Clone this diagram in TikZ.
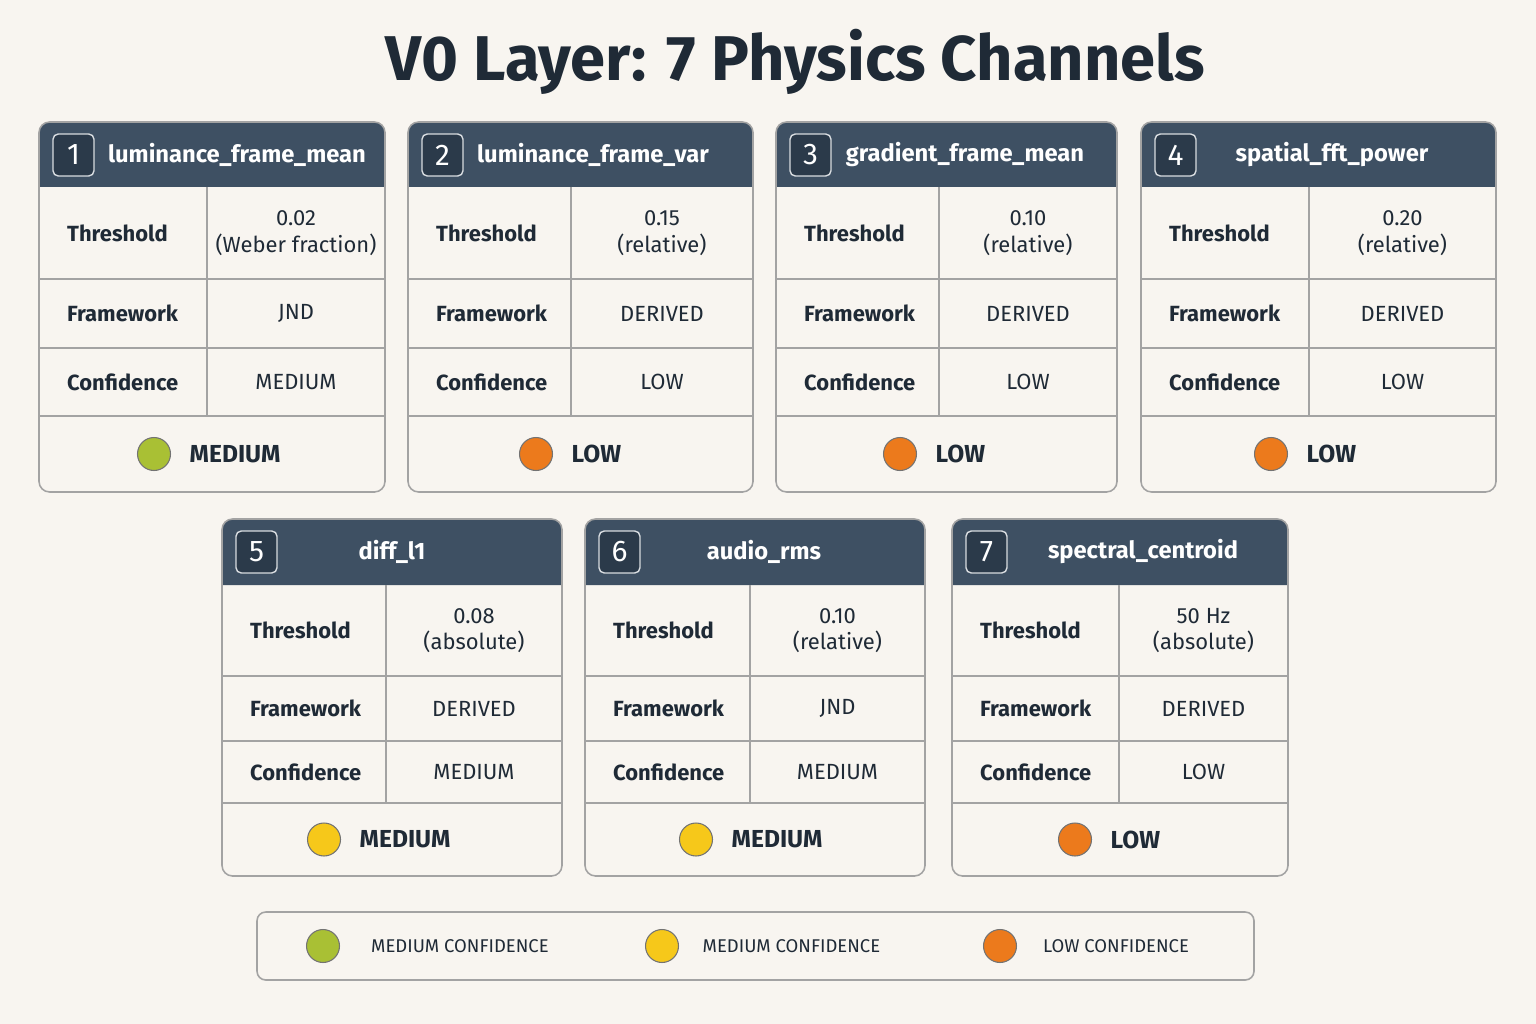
\documentclass[tikz,border=0pt]{standalone}
\usepackage{fontspec}
\setmainfont{Fira Sans}
\usetikzlibrary{positioning}

\definecolor{bg}{HTML}{F8F5F0}
\definecolor{hdr}{HTML}{3E5063}
\definecolor{numbox}{HTML}{2B3A4A}
\definecolor{grid}{HTML}{A3A3A3}
\definecolor{ink}{HTML}{1F2A36}
\definecolor{cgreen}{HTML}{A9C034}
\definecolor{cyellow}{HTML}{F6C81A}
\definecolor{corange}{HTML}{EC7A1C}

\tikzset{
  lbl/.style={font=\fontsize{12.5}{14}\selectfont\bfseries, text=ink, anchor=west},
  val/.style={font=\fontsize{12.5}{15}\selectfont, text=ink, align=center},
  hname/.style={font=\fontsize{13.5}{15}\selectfont\bfseries, text=white},
  badge/.style={font=\fontsize{14}{16}\selectfont\bfseries, text=ink, anchor=west},
  dot/.style={circle, draw=black!55, line width=0.6pt, minimum size=0.66cm, inner sep=0pt},
  legtext/.style={font=\fontsize{10.5}{12}\selectfont, text=ink, anchor=west}
}

% one card; uses \xa \xb \xd \xn \xdot and the row heights \ya..\yf
\newcommand\cardbody{%
  \fill[bg] (\xa,\ya) rectangle (\xb,\yf);
  \fill[hdr] (\xa,\yb) {[rounded corners=6] -- (\xa,\ya) -- (\xb,\ya)} -- (\xb,\yb) -- cycle;
  \draw[grid, line width=0.9pt, rounded corners=6] (\xa,\ya) rectangle (\xb,\yf);
  \draw[grid, line width=0.8pt] (\xa,\yc) -- (\xb,\yc) (\xa,\yd) -- (\xb,\yd) (\xa,\ye) -- (\xb,\ye)
    (\xd,\yb) -- (\xd,\ye);
  \draw[white!80!hdr, fill=numbox, line width=0.8pt, rounded corners=3]
    (\xa+14,\ya+12) rectangle (\xa+55,\ya+54);
  \node[font=\fontsize{17}{17}\selectfont, text=white] at (\xa+34.5,\ya+33) {\n};
  \node[hname] at (\xn,\ya+33) {\name};
  \node[lbl] at (\xa+22,{(\yb+\yc)/2}) {Threshold};
  \node[lbl] at (\xa+22,{(\yc+\yd)/2}) {Framework};
  \node[lbl] at (\xa+22,{(\yd+\ye)/2}) {Confidence};
  \node[val] at ({(\xd+\xb)/2},{(\yb+\yc)/2}) {\tv\\\tu};
  \node[val] at ({(\xd+\xb)/2},{(\yc+\yd)/2}) {\fw};
  \node[val] at ({(\xd+\xb)/2},{(\yd+\ye)/2}) {\cf};
  \node[dot, fill=\dc] (d\n) at (\xdot,{(\ye+\yf)/2}) {};
  \node[badge, right=0.25cm of d\n] {\bd};
}

\begin{document}
\begin{tikzpicture}[x=0.02cm, y=-0.02cm]
  \fill[bg] (0,0) rectangle (1536,1024);
  \useasboundingbox (0,0) rectangle (1536,1024);

  \node[font=\fontsize{36}{40}\selectfont\bfseries, text=ink] (title) at (795,62) {V0 Layer: 7 Physics Channels};

  % top row
  \def\ya{122}\def\yb{187}\def\yc{279}\def\yd{348}\def\ye{416}\def\yf{492}
  \foreach \xa/\xb/\xd/\xn/\xdot/\n/\name/\tv/\tu/\fw/\cf/\dc/\bd in {
    39/385/207/237/154/1/luminance\_frame\_mean/0.02/(Weber fraction)/JND/MEDIUM/cgreen/MEDIUM,
    408/753/571/593/536/2/luminance\_frame\_var/0.15/(relative)/DERIVED/LOW/corange/LOW,
    776/1117/939/965/900/3/gradient\_frame\_mean/0.10/(relative)/DERIVED/LOW/corange/LOW,
    1141/1496/1309/1332/1271/4/spatial\_fft\_power/0.20/(relative)/DERIVED/LOW/corange/LOW}
    {\cardbody}

  % bottom row
  \def\ya{519}\def\yb{585}\def\yc{676}\def\yd{741}\def\ye{803}\def\yf{876}
  \foreach \xa/\xb/\xd/\xn/\xdot/\n/\name/\tv/\tu/\fw/\cf/\dc/\bd in {
    222/562/386/392/324/5/diff\_l1/0.08/(absolute)/DERIVED/MEDIUM/cyellow/MEDIUM,
    585/925/750/764/696/6/audio\_rms/0.10/(relative)/JND/MEDIUM/cyellow/MEDIUM,
    952/1288/1119/1143/1075/7/spectral\_centroid/50 Hz/(absolute)/DERIVED/LOW/corange/LOW}
    {\cardbody}

  % legend
  \draw[grid, line width=0.9pt, rounded corners=5] (257,912) rectangle (1254,980);
  \node[dot, fill=cgreen] (lg1) at (323,946) {};
  \node[legtext, right=0.5cm of lg1] {MEDIUM CONFIDENCE};
  \node[dot, fill=cyellow] (lg2) at (662,946) {};
  \node[legtext, right=0.35cm of lg2] {MEDIUM CONFIDENCE};
  \node[dot, fill=corange] (lg3) at (1000,946) {};
  \node[legtext, right=0.4cm of lg3] {LOW CONFIDENCE};
\end{tikzpicture}
\end{document}
